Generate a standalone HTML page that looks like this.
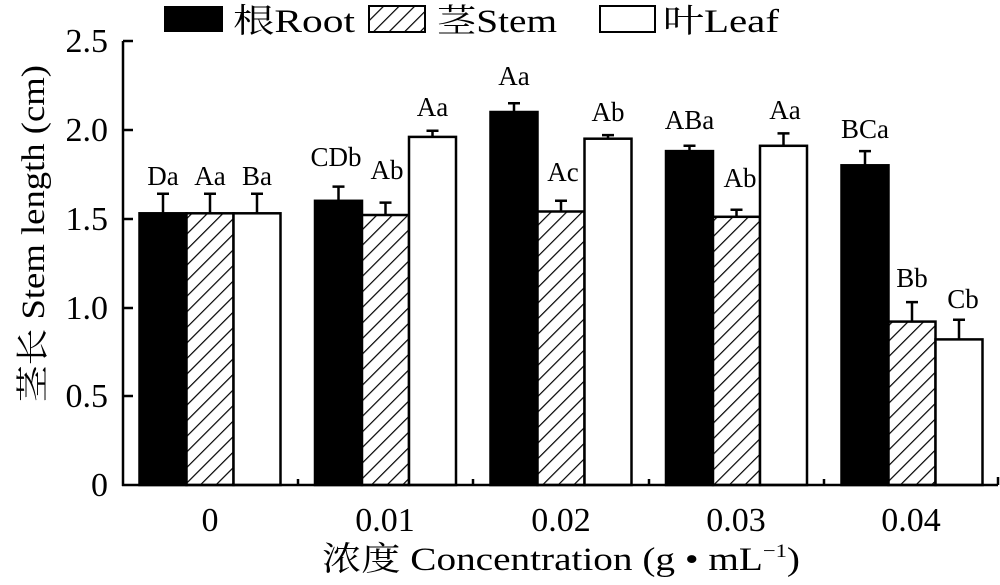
<!DOCTYPE html>
<html><head><meta charset="utf-8"><style>body{margin:0;background:#fff}</style></head><body>
<svg width="1000" height="580" xmlns="http://www.w3.org/2000/svg" font-family="'Liberation Serif','Noto Serif CJK SC',serif">
<defs><pattern id="h" patternUnits="userSpaceOnUse" width="11" height="11" patternTransform="rotate(45)"><rect width="11" height="11" fill="#fff"/><line x1="0" y1="0" x2="0" y2="11" stroke="#000" stroke-width="2.4"/></pattern></defs>
<g stroke="#000" stroke-width="2.5">
<path d="M163 213V193.7M157 193.7H169 M210 213V193.7M204 193.7H216 M257 213V193.7M251 193.7H263
M338.5 200.8V186.6M332.5 186.6H344.5 M385.5 215V202.6M379.5 202.6H391.5 M432.5 136.9V130.7M426.5 130.7H438.5
M514 112V103.2M508 103.2H520 M561 211.5V200.8M555 200.8H567 M608 138.7V135.1M602 135.1H614
M689.5 151.1V145.8M683.5 145.8H695.5 M736.5 216.8V209.7M730.5 209.7H742.5 M783.5 145.8V133.4M777.5 133.4H789.5
M865 165.3V151.1M859 151.1H871 M912 321.6V302.1M906 302.1H918 M959 339.4V319.8M953 319.8H965" fill="none"/>
<rect x="139.5" y="213.3" width="47" height="271.7" fill="#000"/>
<rect x="186.5" y="213.3" width="47" height="271.7" fill="url(#h)"/>
<rect x="233.5" y="213.3" width="47" height="271.7" fill="#fff"/>
<rect x="315" y="200.8" width="47" height="284.2" fill="#000"/>
<rect x="362" y="215" width="47" height="270" fill="url(#h)"/>
<rect x="409" y="136.9" width="47" height="348.1" fill="#fff"/>
<rect x="490.5" y="112" width="47" height="373" fill="#000"/>
<rect x="537.5" y="211.5" width="47" height="273.5" fill="url(#h)"/>
<rect x="584.5" y="138.7" width="47" height="346.3" fill="#fff"/>
<rect x="666" y="151.1" width="47" height="333.9" fill="#000"/>
<rect x="713" y="216.8" width="47" height="268.2" fill="url(#h)"/>
<rect x="760" y="145.8" width="47" height="339.2" fill="#fff"/>
<rect x="841.5" y="165.3" width="47" height="319.7" fill="#000"/>
<rect x="888.5" y="321.6" width="47" height="163.4" fill="url(#h)"/>
<rect x="935.5" y="339.4" width="47" height="145.6" fill="#fff"/>
</g>
<g font-size="27" text-anchor="middle">
<text x="163" y="185">Da</text><text x="210" y="185">Aa</text><text x="257" y="185">Ba</text>
<text x="336" y="166">CDb</text><text x="387" y="179">Ab</text><text x="432.5" y="116">Aa</text>
<text x="514" y="85">Aa</text><text x="563" y="181">Ac</text><text x="608" y="121">Ab</text>
<text x="689.5" y="129">ABa</text><text x="740" y="187">Ab</text><text x="785" y="119">Aa</text>
<text x="865" y="138">BCa</text><text x="912" y="287">Bb</text><text x="963" y="308">Cb</text>
</g>
<g stroke="#000" stroke-width="2.5" fill="none">
<line x1="123" y1="41" x2="123" y2="486"/><line x1="122" y1="485" x2="998" y2="485"/>
<line x1="123" y1="41" x2="133" y2="41"/><line x1="123" y1="130" x2="133" y2="130"/><line x1="123" y1="219" x2="133" y2="219"/><line x1="123" y1="308" x2="133" y2="308"/><line x1="123" y1="396" x2="133" y2="396"/>
<line x1="298" y1="485" x2="298" y2="479"/><line x1="473" y1="485" x2="473" y2="479"/><line x1="649" y1="485" x2="649" y2="479"/><line x1="824" y1="485" x2="824" y2="479"/><line x1="998" y1="485" x2="998" y2="477"/>
</g>
<g font-size="34" text-anchor="end">
<text x="108" y="52">2.5</text><text x="108" y="141">2.0</text><text x="108" y="230">1.5</text><text x="108" y="319">1.0</text><text x="108" y="407">0.5</text><text x="108" y="496">0</text>
</g>
<g font-size="34" text-anchor="middle">
<text x="210" y="531">0</text><text x="385" y="531">0.01</text><text x="561" y="531">0.02</text><text x="736" y="531">0.03</text><text x="911" y="531">0.04</text>
</g>
<text x="322" y="570" font-size="33" textLength="478" lengthAdjust="spacingAndGlyphs">浓度 Concentration (g • mL<tspan font-size="19" dy="-13">−1</tspan><tspan dy="13">)</tspan></text>
<text transform="translate(44,402) rotate(-90)" font-size="33" textLength="337" lengthAdjust="spacingAndGlyphs">茎长 Stem length (cm)</text>
<g font-size="33">
<rect x="164" y="6" width="59" height="26" fill="#000"/><text x="233" y="32" textLength="122" lengthAdjust="spacingAndGlyphs">根Root</text>
<rect x="369" y="6" width="56" height="26" fill="url(#h)" stroke="#000" stroke-width="2"/><text x="437" y="32" textLength="120" lengthAdjust="spacingAndGlyphs">茎Stem</text>
<rect x="600" y="6" width="55" height="26" fill="#fff" stroke="#000" stroke-width="2"/><text x="663" y="32" textLength="116" lengthAdjust="spacingAndGlyphs">叶Leaf</text>
</g>
</svg>
</body></html>
